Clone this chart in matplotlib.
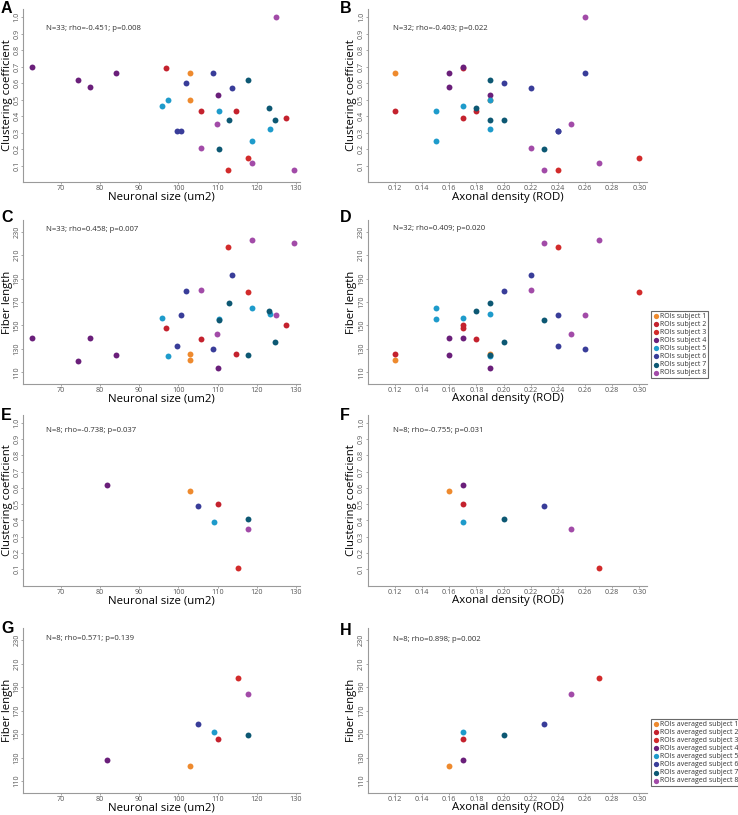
import numpy as np
import matplotlib
matplotlib.use("Agg")
import matplotlib.pyplot as plt

plt.rcParams['font.family'] = ['Open Sans', 'DejaVu Sans']

# ROI level data (subject index, neuronal size, axonal density, clustering coeff, fiber length)
roi_subject = [1, 1,
               2, 2, 2, 2,
               3, 3,
               4, 4, 4, 4, 4,
               5, 5, 5, 5, 5,
               6, 6, 6, 6, 6,
               7, 7, 7, 7, 7,
               8, 8, 8, 8, 8]
roi_size = [103.0, 103.0,
            96.8, 105.8, 114.6, 127.5,
            112.7, 117.8,
            62.6, 74.4, 77.5, 84.1, 110.0,
            95.9, 97.4, 110.4, 118.9, 123.4,
            99.7, 100.8, 101.9, 108.9, 113.8,
            110.4, 112.8, 117.8, 123.0, 124.7,
            105.9, 109.8, 118.7, 124.9, 129.4]
roi_density = [0.12, 0.19,
               0.17, 0.18, 0.12, 0.17,
               0.24, 0.30,
               0.17, np.nan, 0.16, 0.16, 0.19,
               0.17, 0.19, 0.15, 0.15, 0.19,
               0.24, 0.24, 0.20, 0.26, 0.22,
               0.23, 0.19, 0.19, 0.18, 0.20,
               0.22, 0.25, 0.27, 0.26, 0.23]
roi_cc = [0.66, 0.50,
          0.69, 0.43, 0.43, 0.39,
          0.075, 0.146,
          0.70, 0.62, 0.58, 0.66, 0.53,
          0.46, 0.50, 0.43, 0.25, 0.32,
          0.31, 0.31, 0.60, 0.66, 0.57,
          0.20, 0.38, 0.62, 0.45, 0.38,
          0.21, 0.35, 0.115, 1.00, 0.075]
roi_fiber = [120.2, 125.9,
             148.1, 138.7, 125.6, 150.4,
             216.9, 178.5,
             139.6, 119.7, 139.0, 124.5, 114.0,
             156.6, 124.2, 155.5, 164.6, 159.8,
             132.2, 158.6, 179.1, 129.6, 193.3,
             155.0, 168.9, 125.0, 162.0, 135.5,
             180.5, 142.8, 223.0, 159.3, 220.2]

# subject averages
avg_size = [103.0, 110.2, 115.3, 81.7, 109.2, 105.0, 117.8, 117.8]
avg_density = [0.16, 0.17, 0.27, 0.17, 0.17, 0.23, 0.20, 0.25]
avg_cc = [0.58, 0.50, 0.11, 0.62, 0.39, 0.49, 0.41, 0.35]
avg_fiber = [123.0, 145.5, 197.5, 127.5, 152.0, 158.2, 149.0, 184.3]

subj_colors = ['#EE8A2E', '#C4222E', '#D22B2B', '#6A1F7A',
               '#1E9BCB', '#393D99', '#0D5873', '#A24BA8']

stats = {
    'A': 'N=33; rho=-0.451; p=0.008', 'B': 'N=32; rho=-0.403; p=0.022',
    'C': 'N=33; rho=0.458; p=0.007', 'D': 'N=32; rho=0.409; p=0.020',
    'E': 'N=8; rho=-0.738; p=0.037', 'F': 'N=8; rho=-0.755; p=0.031',
    'G': 'N=8; rho=0.571; p=0.139', 'H': 'N=8; rho=0.898; p=0.002',
}

W, H = 738, 815
fig = plt.figure(figsize=(W / 100, H / 100), dpi=100)

# axes boxes in pixels: (left, right) and (top, bottom)
cols = [(23.4, 299.9), (367.9, 647.4)]
rows = [(9.0, 182.2), (220.0, 384.0), (414.6, 585.6), (628.3, 792.8)]

axcol = '#9a9a9a'
tickcol = '#555555'


def make_ax(col, row):
    l, r = cols[col]
    t, b = rows[row]
    ax = fig.add_axes([l / W, 1 - b / H, (r - l) / W, (b - t) / H])
    for s in ['top', 'right']:
        ax.spines[s].set_visible(False)
    for s in ['left', 'bottom']:
        ax.spines[s].set_color(axcol)
        ax.spines[s].set_linewidth(0.8)
    ax.tick_params(colors=axcol, labelcolor=tickcol, labelsize=5.2,
                   length=1.5, width=0.6, pad=0.6)
    return ax


def style(ax, col, row, key, text_y):
    l, r = cols[col]
    t, b = rows[row]
    if col == 0:
        ax.set_xlim(60.5, 131)
        ax.set_xticks([70, 80, 90, 100, 110, 120, 130])
        ax.set_xlabel('Neuronal size (um2)', fontsize=8.2)
    else:
        ax.set_xlim(0.10, 0.306)
        ticks = np.arange(0.12, 0.301, 0.02)
        ax.set_xticks(ticks)
        ax.set_xticklabels(['%.2f' % v for v in ticks])
        ax.set_xlabel('Axonal density (ROD)', fontsize=8.2)
    ax.xaxis.set_label_coords(0.5, -9.5 / (b - t))
    if row in (0, 2):
        ax.set_ylim(0, 1.05)
        ax.set_yticks(np.arange(0.1, 1.01, 0.1))
        ax.set_yticklabels(['%.1f' % v for v in np.arange(0.1, 1.01, 0.1)],
                           rotation=90, va='center')
        ax.set_ylabel('Clustering coefficient', fontsize=8.2)
    else:
        ax.set_ylim(100, 240)
        ax.set_yticks([110, 130, 150, 170, 190, 210, 230])
        ax.set_yticklabels(['110', '130', '150', '170', '190', '210', '230'],
                           rotation=90, va='center')
        ax.set_ylabel('Fiber length', fontsize=8.2)
    ax.yaxis.set_label_coords(-10.5 / (r - l), 0.5)
    ax.text(0.083 if col == 0 else 0.089, text_y, stats[key],
            transform=ax.transAxes, fontsize=5.6, color='#333333', va='center')


roi_subject = np.array(roi_subject)
xs_roi = [np.array(roi_size), np.array(roi_density)]
ys_roi = [np.array(roi_cc), np.array(roi_fiber)]
xs_avg = [np.array(avg_size), np.array(avg_density)]
ys_avg = [np.array(avg_cc), np.array(avg_fiber)]

keys = [['A', 'B'], ['C', 'D'], ['E', 'F'], ['G', 'H']]
text_ys = [[0.89, 0.89], [0.945, 0.95], [0.906, 0.906], [0.939, 0.933]]
msize = 18
legend_handles = {}

for row in range(4):
    for col in range(2):
        ax = make_ax(col, row)
        if row < 2:
            x = xs_roi[col]
            y = ys_roi[row]
            for s in range(1, 9):
                m = roi_subject == s
                h = ax.scatter(x[m], y[m], s=msize, color=subj_colors[s - 1],
                               linewidths=0, zorder=3,
                               label='ROIs subject %d' % s)
                if row == 1 and col == 1:
                    legend_handles.setdefault('roi', []).append(h)
        else:
            x = xs_avg[col]
            y = ys_avg[row - 2]
            for s in range(8):
                h = ax.scatter(x[s], y[s], s=msize, color=subj_colors[s],
                               linewidths=0, zorder=3,
                               label='ROIs averaged subject %d' % (s + 1))
                if row == 3 and col == 1:
                    legend_handles.setdefault('avg', []).append(h)
        style(ax, col, row, keys[row][col], text_ys[row][col])

# panel letters
letter_pos = [('A', 1, 1), ('B', 340, 1), ('C', 1, 210), ('D', 340, 210),
              ('E', 1, 408), ('F', 340, 408), ('G', 1, 621), ('H', 340, 623)]
for lab, px, py in letter_pos:
    fig.text(px / W, 1 - py / H, lab, fontsize=11.5, fontweight='bold',
             va='top', ha='left', family='Liberation Sans')

leg_kw = dict(fontsize=5, frameon=True, fancybox=False, loc='upper left',
              handletextpad=0.1, handlelength=0.9, labelspacing=0.15,
              borderpad=0.3, borderaxespad=0, markerscale=0.9)
l1 = fig.legend(handles=legend_handles['roi'], bbox_to_anchor=(651 / W, 1 - 311 / H), **leg_kw)
l2 = fig.legend(handles=legend_handles['avg'], bbox_to_anchor=(651 / W, 1 - 719 / H), **leg_kw)
for lg in (l1, l2):
    lg.get_frame().set_edgecolor('#444444')
    lg.get_frame().set_linewidth(0.8)
    for t in lg.get_texts():
        t.set_color('#333333')

fig.savefig('out.png', dpi=100)
